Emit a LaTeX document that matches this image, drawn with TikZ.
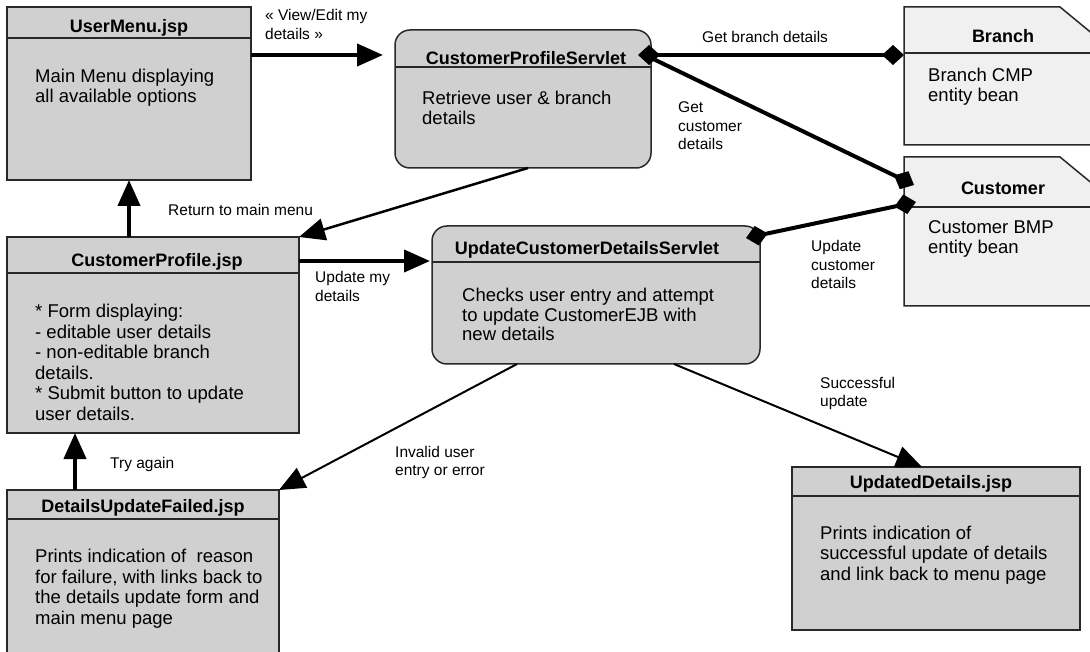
\documentclass[tikz,border=0pt]{standalone}
\usepackage{fontspec}
\setmainfont{Liberation Sans}
\usetikzlibrary{arrows.meta}
\definecolor{boxgrey}{RGB}{208,208,208}
\definecolor{entgrey}{RGB}{240,240,240}
\definecolor{edge}{RGB}{40,40,40}
\tikzset{
 jsp/.style={draw=edge, line width=1.5pt, fill=boxgrey, inner sep=0pt, outer sep=0pt},
 servlet/.style={jsp, rounded corners=15pt},
 ent/.style={draw=none, inner sep=0pt, outer sep=0pt},
 entshape/.style={draw=edge, line width=1.5pt, fill=entgrey},
 ttl/.style={font=\fontsize{18}{20}\selectfont\bfseries, anchor=base, inner sep=0pt},
 body/.style={font=\fontsize{18.5}{20}\selectfont, anchor=base west, align=left, inner sep=0pt},
 lbl/.style={font=\fontsize{15.5}{18.5}\selectfont, anchor=base west, align=left, inner sep=0pt},
 hdr/.style={line width=1.2pt, draw=edge},
 thickarrow/.style={line width=4pt, -{Triangle[length=26pt,width=22pt]}},
 thinarrow/.style={line width=2pt, -{Triangle[length=26pt,width=22pt]}},
 assoc/.style={line width=4pt}
}
\begin{document}
\begin{tikzpicture}[x=1pt,y=-1pt]
\useasboundingbox (0,0) rectangle (1090,652);
% boxes
\node[jsp, minimum width=244pt, minimum height=173pt] (um) at (129,93.5) {};
\node[servlet, minimum width=256pt, minimum height=138pt] (cps) at (523,99) {};
\node[ent, minimum width=196pt, minimum height=138pt] (branch) at (1002,76) {};
\node[ent, minimum width=196pt, minimum height=149pt] (cust) at (1002,231.5) {};
\node[jsp, minimum width=292pt, minimum height=196pt] (cp) at (153,335) {};
\node[servlet, minimum width=328pt, minimum height=138pt] (ucds) at (596,295) {};
\node[jsp, minimum width=272pt, minimum height=170pt] (duf) at (143,575) {};
\node[jsp, minimum width=288pt, minimum height=163pt] (ud) at (936,548.5) {};
% entity shapes with folded corner
\draw[entshape] (branch.north west) -- ++(156,0) -- ++(40,33) -- (branch.south east) -- (branch.south west) -- cycle;
\draw[entshape] (cust.north west) -- ++(156,0) -- ++(40,33) -- (cust.south east) -- (cust.south west) -- cycle;
% header lines
\draw[hdr] ([yshift=-31pt]um.north west) -- ([yshift=-31pt]um.north east);
\draw[hdr] ([yshift=-37pt]cps.north west) -- ([yshift=-37pt]cps.north east);
\draw[hdr] ([yshift=-46pt]branch.north west) -- ([yshift=-46pt]branch.north east);
\draw[hdr] ([yshift=-50pt]cust.north west) -- ([yshift=-50pt]cust.north east);
\draw[hdr] ([yshift=-36pt]cp.north west) -- ([yshift=-36pt]cp.north east);
\draw[hdr] ([yshift=-36pt]ucds.north west) -- ([yshift=-36pt]ucds.north east);
\draw[hdr] ([yshift=-29pt]duf.north west) -- ([yshift=-29pt]duf.north east);
\draw[hdr] ([yshift=-29pt]ud.north west) -- ([yshift=-29pt]ud.north east);
% titles
\node[ttl] (umt) at (129,33) {UserMenu.jsp};
\node[ttl] (cpst) at (526,65) {CustomerProfileServlet};
\node[ttl] (brt) at (1003,43) {Branch};
\node[ttl] (cut) at (1003,195) {Customer};
\node[ttl] (cpt) at (157,267) {CustomerProfile.jsp};
\node[ttl] (ucdst) at (587,255) {UpdateCustomerDetailsServlet};
\node[ttl] (duft) at (143,512) {DetailsUpdateFailed.jsp};
\node[ttl] (udt) at (931,488) {UpdatedDetails.jsp};
% bodies (anchor = baseline of the last line)
\node[body] (umb) at (35,103) {Main Menu displaying\\all available options};
\node[body] (cpsb) at (422,125) {Retrieve user \& branch\\details};
\node[body] (brb) at (928,102) {Branch CMP\\entity bean};
\node[body] (cub) at (928,254) {Customer BMP\\entity bean};
\node[body, font=\fontsize{18.5}{20.5}\selectfont] (cpb) at (35,420) {* Form displaying:\\- editable user details\\- non-editable branch\\details.\\* Submit button to update\\user details.};
\node[body, font=\fontsize{18.5}{19.5}\selectfont] (ucdsb) at (462,341) {Checks user entry and attempt\\to update CustomerEJB with\\new details};
\node[body, font=\fontsize{18.5}{20.5}\selectfont] (dufb) at (35,624) {Prints indication of\ \ reason\\for failure, with links back to\\the details update form and\\main menu page};
\node[body, font=\fontsize{18.5}{20.5}\selectfont] (udb) at (820,580) {Prints indication of\\successful update of details\\and link back to menu page};
% connectors
\draw[thickarrow] ([yshift=-48pt]um.north east) -- ([xshift=-12pt,yshift=-25pt]cps.north west);
\draw[assoc, {Diamond[length=22pt,width=20pt]}-{Diamond[length=22pt,width=20pt]}] ([xshift=-13pt,yshift=-25pt]cps.north east) -- ([yshift=-48pt]branch.north west);
\draw[assoc, -{Diamond[length=22pt,width=20pt]}] ([xshift=-6pt,yshift=-25pt]cps.north east) -- ([xshift=10pt,yshift=-28pt]cust.north west);
\draw[assoc, {Diamond[length=22pt,width=20pt]}-{Diamond[length=22pt,width=20pt]}] ([xshift=-14pt,yshift=-12pt]ucds.north east) -- ([xshift=12pt,yshift=-45pt]cust.north west);
\draw[thinarrow, line width=2.5pt] ([xshift=5pt]cps.south) -- (cp.north east);
\draw[thickarrow] ([xshift=-24pt]cp.north) -- (um.south);
\draw[thickarrow] ([yshift=-24pt]cp.north east) -- ([xshift=-2pt,yshift=-35pt]ucds.north west);
\draw[thinarrow] ([xshift=-79pt]ucds.south) -- (duf.north east);
\draw[thickarrow] ([xshift=-68pt]duf.north) -- ([xshift=-78pt]cp.south);
\draw[thinarrow] ([xshift=78pt]ucds.south) -- ([xshift=-14pt]ud.north);
% labels (anchor = baseline of the last line)
\node[lbl] (l1) at (265,39.5) {« View/Edit my\\details »};
\node[lbl] (l2) at (702,43) {Get branch details};
\node[lbl] (l3) at (678,150) {Get\\customer\\details};
\node[lbl] (l4) at (168,216) {Return to main menu};
\node[lbl] (l5) at (811,289) {Update\\customer\\details};
\node[lbl] (l6) at (315,301.5) {Update my\\details};
\node[lbl] (l7) at (395,475.5) {Invalid user\\entry or error};
\node[lbl] (l8) at (110,468) {Try again};
\node[lbl] (l9) at (820,406.5) {Successful\\update};
\end{tikzpicture}
\end{document}
